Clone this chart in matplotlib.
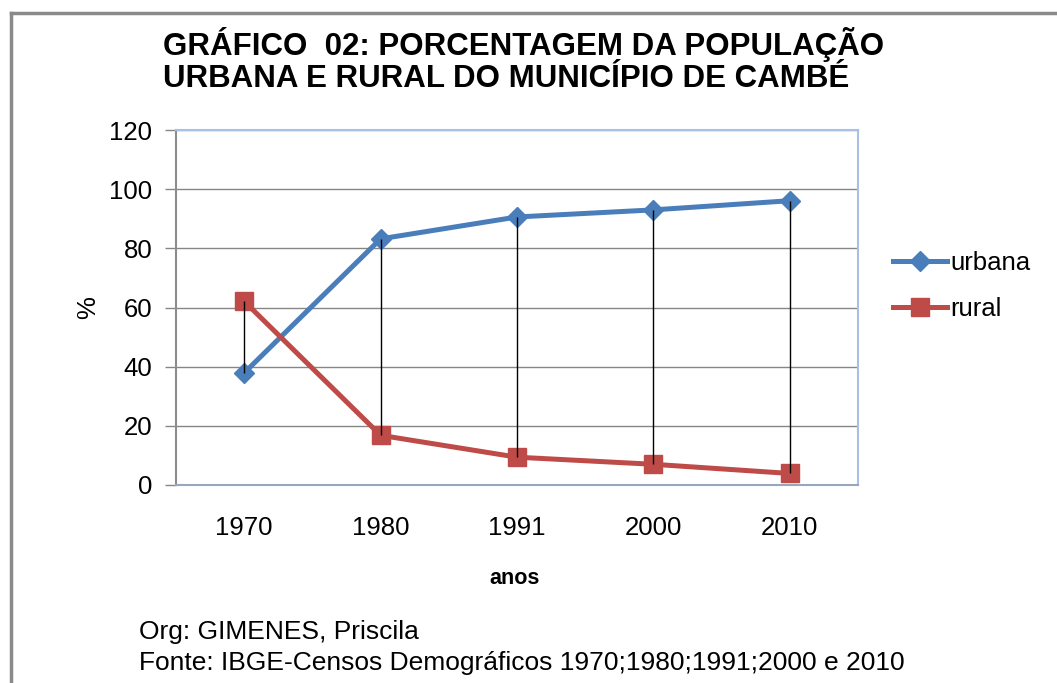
import matplotlib
matplotlib.use("Agg")
import matplotlib.pyplot as plt
from matplotlib.lines import Line2D

plt.rcParams['font.family'] = ['Liberation Sans', 'DejaVu Sans']

anos = ['1970', '1980', '1991', '2000', '2010']
urbana = [37.9, 83.2, 90.6, 93.0, 96.1]
rural = [62.1, 16.8, 9.4, 7.0, 3.9]
yticks = [0, 20, 40, 60, 80, 100, 120]

fig = plt.figure(figsize=(10.57, 6.83), dpi=100)
ax = fig.add_axes([176/1057, 1-485/683, (858-176)/1057, (485-130)/683])

x = list(range(len(anos)))
blue = '#4a7ebb'
red = '#be4b48'

ax.plot(x, urbana, color=blue, lw=3.6, marker='D', ms=10, mec=blue, zorder=3, label='urbana')
ax.plot(x, rural, color=red, lw=3.6, marker='s', ms=13, mec=red, zorder=3, label='rural')
ax.vlines(x, [min(u, r) for u, r in zip(urbana, rural)],
          [max(u, r) for u, r in zip(urbana, rural)], color='black', lw=1, zorder=4)

ax.set_xlim(-0.5, len(anos) - 0.5)
ax.set_ylim(0, 120)
ax.set_yticks(yticks)
ax.set_yticklabels([str(v) for v in yticks], fontsize=18.5)
ax.set_xticks(x)
ax.set_xticklabels(anos, fontsize=18.5)
ax.tick_params(axis='x', length=0, pad=22)
ax.tick_params(axis='y', length=8, color='#868686', width=1, pad=9)
ax.grid(axis='y', color='#868686', lw=1)
ax.set_axisbelow(True)
for s in ['top', 'right']:
    ax.spines[s].set_color('#a7c0e4')
    ax.spines[s].set_linewidth(1.5)
ax.spines['left'].set_color('#8c8c8c')
ax.spines['bottom'].set_color('#9aa6bd')
ax.spines['left'].set_linewidth(1.5)
ax.spines['bottom'].set_linewidth(1.5)

fig.text(88/1057, 1-308/683, '%', rotation=90, fontsize=18.5, ha='center', va='center')
fig.text(515/1057, 1-578/683, 'anos', fontsize=15.5, fontweight='bold', ha='center', va='center')

fig.text(163/1057, 1-45/683, 'GRÁFICO  02: PORCENTAGEM DA POPULAÇÃO', fontsize=22.5,
         fontweight='bold', ha='left', va='center')
fig.text(163/1057, 1-79/683, 'URBANA E RURAL DO MUNICÍPIO DE CAMBÉ', fontsize=22.5,
         fontweight='bold', ha='left', va='center')

fig.text(139/1057, 1-632/683, 'Org: GIMENES, Priscila', fontsize=19, ha='left', va='center')
fig.text(139/1057, 1-663/683, 'Fonte: IBGE-Censos Demográficos 1970;1980;1991;2000 e 2010',
         fontsize=19, ha='left', va='center')

handles = [Line2D([], [], color=blue, lw=3.6, marker='D', ms=10),
           Line2D([], [], color=red, lw=3.6, marker='s', ms=13)]
fig.legend(handles, ['urbana', 'rural'], loc='center left',
           bbox_to_anchor=(885/1057, 1-286/683), frameon=False, fontsize=18.5,
           handlelength=2.1, handletextpad=0.15, labelspacing=0.85,
           borderaxespad=0, borderpad=0.3)

# outer frame (top and left edges visible)
fig.add_artist(Line2D([11/1057, 1], [1-13/683, 1-13/683], color='#8a8a8a', lw=2.5,
                      transform=fig.transFigure))
fig.add_artist(Line2D([11/1057, 11/1057], [0, 1-13/683], color='#8a8a8a', lw=2.5,
                      transform=fig.transFigure))

fig.savefig('out.png', dpi=100)
